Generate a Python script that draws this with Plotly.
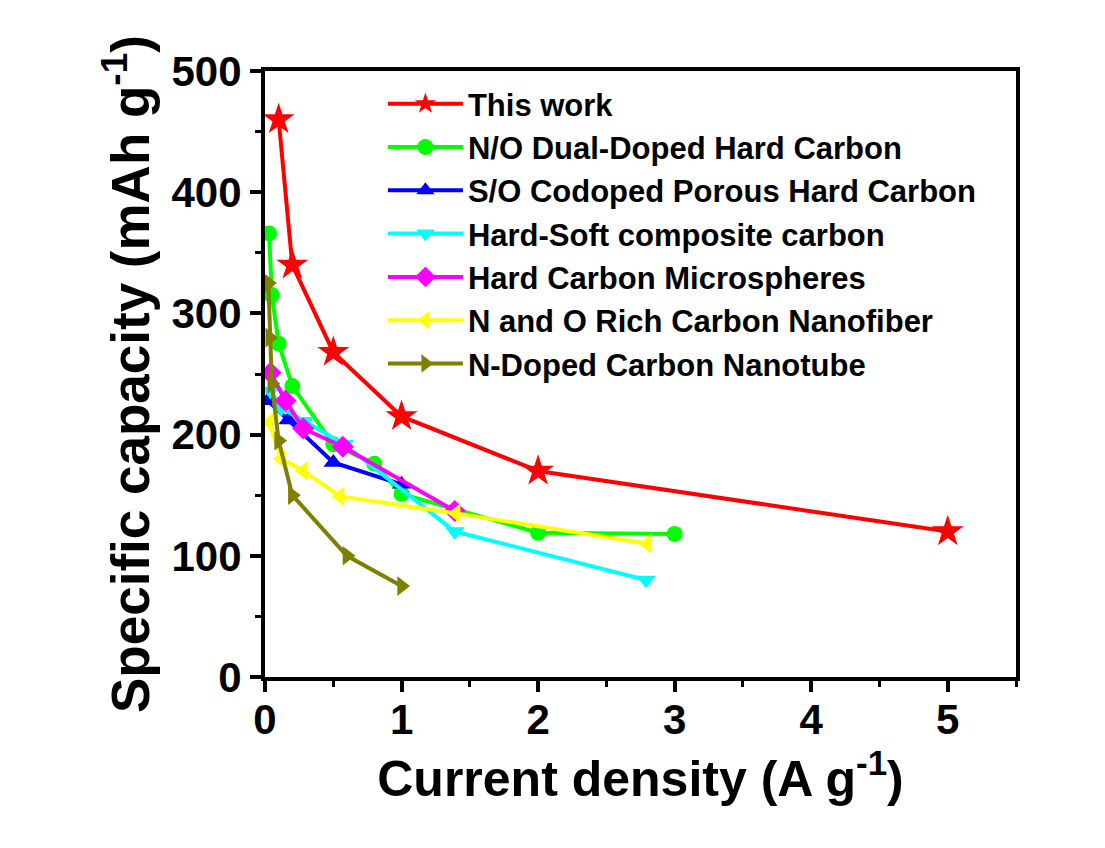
import plotly.graph_objects as go

# ---- data ----
this_work_x = [0.1, 0.2, 0.5, 1.0, 2.0, 5.0]
this_work_y = [460, 340, 268, 215, 170, 120]

no_dual_x = [0.03, 0.05, 0.1, 0.2, 0.5, 0.8, 1.0, 2.0, 3.0]
no_dual_y = [366, 315, 275, 240, 192, 176, 151, 119, 118]

so_codoped_x = [0.02, 0.17, 0.5, 1.0]
so_codoped_y = [228, 212, 177, 159]

hard_soft_x = [0.04, 0.12, 0.29, 0.58, 1.39, 2.79]
hard_soft_y = [236, 222, 211, 192, 120, 80]

microsph_x = [0.04, 0.15, 0.28, 0.57, 1.39]
microsph_y = [251, 228, 205, 190, 137]

no_rich_x = [0.03, 0.12, 0.28, 0.55, 1.4, 2.8]
no_rich_y = [210, 180, 170, 149, 135, 110]

ndoped_x = [0.025, 0.035, 0.05, 0.1, 0.2, 0.6, 1.0]
ndoped_y = [325, 280, 242, 195, 150, 100, 75]

names = ["This work", "N/O Dual-Doped Hard Carbon", "S/O Codoped Porous Hard Carbon",
         "Hard-Soft composite carbon", "Hard Carbon Microspheres",
         "N and O Rich Carbon Nanofiber", "N-Doped Carbon Nanotube"]
xs = [this_work_x, no_dual_x, so_codoped_x, hard_soft_x, microsph_x, no_rich_x, ndoped_x]
ys = [this_work_y, no_dual_y, so_codoped_y, hard_soft_y, microsph_y, no_rich_y, ndoped_y]
colors = ["#FF0000", "#00FF00", "#0000FF", "#00FFFF", "#FF00FF", "#FFFF00", "#808000"]
symbols = ["star", "circle", "triangle-up", "triangle-down", "diamond", "triangle-left", "triangle-right"]
msizes = [24, 16, 17, 17, 17, 17, 17]

x_ticks = [0, 1, 2, 3, 4, 5]
y_ticks = [0, 100, 200, 300, 400, 500]

FONT = "Liberation Sans, Arial, sans-serif"

fig = go.Figure()
for n, x, y, c, s, ms in zip(names, xs, ys, colors, symbols, msizes):
    fig.add_trace(go.Scatter(
        x=x, y=y, name=n, mode="lines+markers",
        line=dict(color=c, width=4),
        marker=dict(symbol=s, size=ms, color=c, line=dict(width=0)),
    ))

axis_common = dict(
    showline=True, linecolor="black", linewidth=4, mirror=True,
    ticks="outside", ticklen=11, tickwidth=4, tickcolor="black",
    showgrid=False, zeroline=False,
    tickfont=dict(family=FONT, size=42, color="black", weight="bold"),
    minor=dict(ticks="outside", ticklen=6, tickwidth=3, tickcolor="black"),
)

fig.update_xaxes(range=[0, 5.5], tickvals=x_ticks, dtick=1, ticklabelstandoff=-8,
                 title=dict(text="<b>Current density (A g<sup>-1</sup>)</b>",
                            font=dict(family=FONT, size=50, color="black"), standoff=4),
                 **axis_common)
fig.update_xaxes(minor=dict(dtick=0.5, tick0=0))
fig.update_yaxes(range=[0, 500], tickvals=y_ticks, dtick=100,
                 title=dict(text="<b>Specific capacity (mAh g<sup>-1</sup>)</b>",
                            font=dict(family=FONT, size=53, color="black"), standoff=6),
                 **axis_common)
fig.update_yaxes(minor=dict(dtick=50, tick0=0))

fig.update_layout(
    width=1105, height=848,
    margin=dict(l=265, r=89, t=71, b=171),
    paper_bgcolor="white", plot_bgcolor="white",
    showlegend=True,
    legend=dict(x=0.157, y=0.99, xanchor="left", yanchor="top",
                bgcolor="rgba(0,0,0,0)", borderwidth=0,
                font=dict(family=FONT, size=31, color="black", weight="bold"),
                itemwidth=75, tracegroupgap=0),
)

fig.write_html("out.html")
